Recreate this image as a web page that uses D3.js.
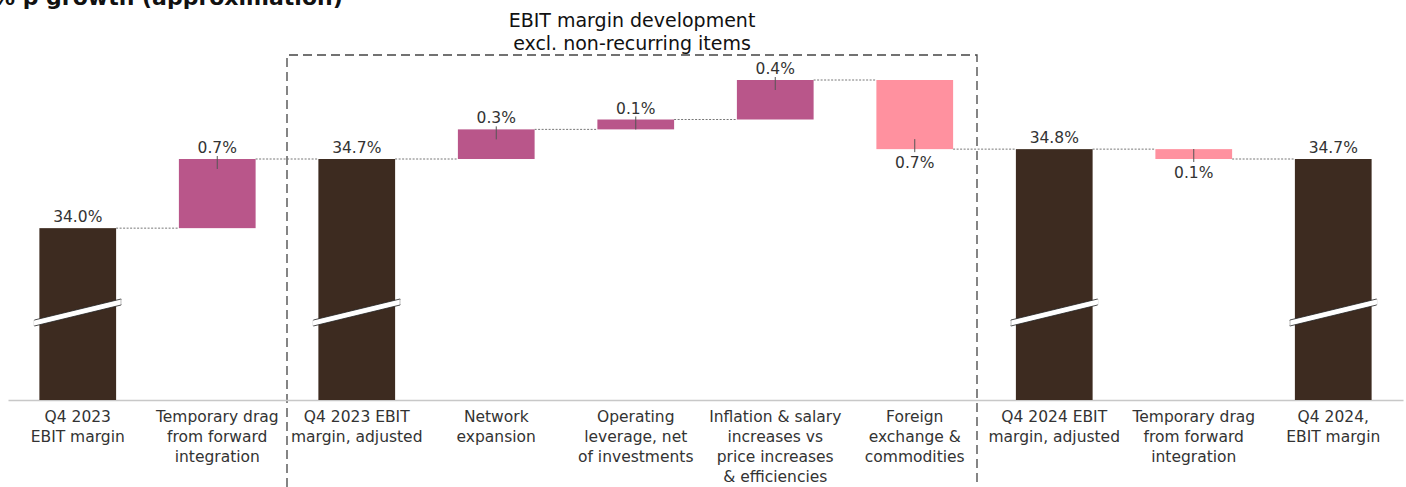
<!DOCTYPE html>
<html>
<head>
<meta charset="utf-8">
<script src="https://cdn.jsdelivr.net/npm/d3@7"></script>
<style>
  body { margin: 0; background: #fff; }
  svg { display: block; font-family: "DejaVu Sans", sans-serif; }
</style>
</head>
<body>
<svg width="1406" height="487"></svg>
<script>
// chart data
var categories = [
  "Q4 2023|EBIT margin",
  "Temporary drag|from forward|integration",
  "Q4 2023 EBIT|margin, adjusted",
  "Network|expansion",
  "Operating|leverage, net|of investments",
  "Inflation & salary|increases vs|price increases|& efficiencies",
  "Foreign|exchange &|commodities",
  "Q4 2024 EBIT|margin, adjusted",
  "Temporary drag|from forward|integration",
  "Q4 2024,|EBIT margin"
];
var values = [34.0, 0.7, 34.7, 0.3, 0.1, 0.4, -0.7, 34.8, -0.1, 34.7];
var kinds = ["total", "delta", "total", "delta", "delta", "delta", "delta", "total", "delta", "total"];
var valueLabels = ["34.0%", "0.7%", "34.7%", "0.3%", "0.1%", "0.4%", "0.7%", "34.8%", "0.1%", "34.7%"];
var yDomain = [32.26, 35.5];

function main(){
    var svg = d3.select("svg"),
        height = 400;

    var colTotal = "#3d2b20", colUp = "#b9568a", colDown = "#ff919f";

    // running levels for the waterfall
    var level = 0;
    var rows = values.map(function(v, i){
        var r;
        if (kinds[i] == "total") {
            r = {lo: 0, hi: v, start: v, end: v};
            level = v;
        } else {
            r = {lo: Math.min(level, level + v), hi: Math.max(level, level + v), start: level, end: level + v};
            level = level + v;
        }
        r.i = i; r.v = v; r.kind = kinds[i];
        return r;
    });

    var xScale = d3.scaleBand().domain(d3.range(categories.length))
        .range([8, 1403]).paddingInner(0.45).paddingOuter(0.225);
    var yScale = d3.scaleLinear().domain(yDomain).range([height, 80]);
    var bw = xScale.bandwidth();

    function yOf(v){ return Math.min(height, yScale(v)); }

    // title cut at the top
    svg.append("text").attr("x", -7).attr("y", 5)
        .style("font-size", "22px").style("font-weight", "700").attr("fill", "#111")
        .text("% p growth (approximation)");

    // dashed box
    var bx0 = 287, bx1 = 977, by0 = 55;
    svg.append("path")
        .attr("d", "M" + bx0 + ",487V" + by0 + "H" + bx1 + "V487")
        .attr("fill", "none").attr("stroke", "#444").attr("stroke-width", 1.3)
        .attr("stroke-dasharray", "9,5");
    var boxTitle = svg.append("text").attr("text-anchor", "middle")
        .style("font-size", "19px").attr("fill", "#111");
    boxTitle.append("tspan").attr("x", (bx0 + bx1) / 2).attr("y", 27).text("EBIT margin development");
    boxTitle.append("tspan").attr("x", (bx0 + bx1) / 2).attr("y", 50).text("excl. non-recurring items");

    // connectors
    svg.selectAll(".conn")
        .data(rows.slice(0, rows.length - 1))
        .enter().append("line")
        .attr("x1", function(d){ return xScale(d.i) + bw; })
        .attr("x2", function(d){ return xScale(d.i + 1); })
        .attr("y1", function(d){ return yScale(d.end); })
        .attr("y2", function(d){ return yScale(d.end); })
        .attr("stroke", "#777").attr("stroke-width", 1).attr("stroke-dasharray", "2,1.5");

    // axis line
    var axis = svg.append("g").attr("transform", "translate(0," + height + ")")
        .call(d3.axisBottom(xScale).tickSize(0).tickFormat(""));
    axis.select(".domain").attr("stroke", "#c8c8c8").attr("stroke-width", 1.5);

    // bars
    svg.selectAll(".bar")
        .data(rows)
        .enter().append("rect")
        .attr("class", "bar")
        .attr("x", function(d){ return xScale(d.i); })
        .attr("y", function(d){ return yScale(d.hi); })
        .attr("width", bw)
        .attr("height", function(d){ return yOf(d.lo) - yScale(d.hi); })
        .attr("fill", function(d){
            if (d.kind == "total") return colTotal;
            return d.v >= 0 ? colUp : colDown;
        });

    // axis break marks on total bars
    var totals = rows.filter(function(d){ return d.kind == "total"; });
    svg.selectAll(".brk")
        .data(totals)
        .enter().append("path")
        .attr("d", function(d){
            var x0 = xScale(d.i) - 5, x1 = xScale(d.i) + bw + 5;
            return "M" + x0 + "," + 320 + "L" + x1 + "," + 299 +
                   "L" + x1 + "," + 305 + "L" + x0 + "," + 326 + "Z";
        })
        .attr("fill", "#fff").attr("stroke", "#222").attr("stroke-width", 0.8);
    // hide the stroke on the short ends
    svg.selectAll(".brkEnd")
        .data(totals)
        .enter().append("g")
        .each(function(d){
            var g = d3.select(this);
            var x0 = xScale(d.i) - 5, x1 = xScale(d.i) + bw + 5;
            g.append("line").attr("x1", x0).attr("x2", x0).attr("y1", 320.6).attr("y2", 325.4)
                .attr("stroke", "#fff").attr("stroke-width", 1.2);
            g.append("line").attr("x1", x1).attr("x2", x1).attr("y1", 299.6).attr("y2", 304.4)
                .attr("stroke", "#fff").attr("stroke-width", 1.2);
        });

    // value ticks for deltas
    var deltas = rows.filter(function(d){ return d.kind == "delta"; });
    svg.selectAll(".vtick")
        .data(deltas)
        .enter().append("line")
        .attr("x1", function(d){ return xScale(d.i) + bw / 2; })
        .attr("x2", function(d){ return xScale(d.i) + bw / 2; })
        .attr("y1", function(d){ return d.v >= 0 ? yScale(d.hi) - 3 : yScale(d.lo) - 10; })
        .attr("y2", function(d){ return d.v >= 0 ? yScale(d.hi) + 10 : yScale(d.lo) + 3; })
        .attr("stroke", "#555").attr("stroke-width", 1);

    // value labels
    svg.selectAll(".vlab")
        .data(rows)
        .enter().append("text")
        .attr("text-anchor", "middle")
        .attr("x", function(d){ return xScale(d.i) + bw / 2; })
        .attr("y", function(d){
            if (d.kind == "delta" && d.v < 0) return yScale(d.lo) + 19;
            return yScale(d.hi) - 6;
        })
        .style("font-size", "15.5px").attr("fill", "#333")
        .text(function(d){ return valueLabels[d.i]; });

    // category labels
    svg.selectAll(".clab")
        .data(categories)
        .enter().append("text")
        .attr("text-anchor", "middle")
        .style("font-size", "15.5px").attr("fill", "#333")
        .each(function(d, i){
            var t = d3.select(this);
            d.split("|").forEach(function(line, k){
                t.append("tspan").attr("x", xScale(i) + bw / 2).attr("y", 422 + k * 20).text(line);
            });
        });
}
main();
</script>
</body>
</html>
